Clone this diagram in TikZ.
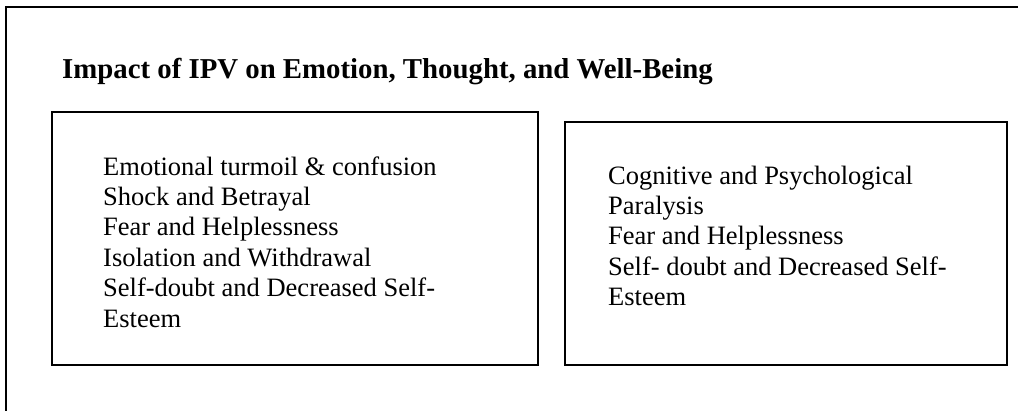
\documentclass[tikz,border=0pt]{standalone}
\usepackage{fontspec}
\setmainfont{Liberation Serif}
\begin{document}
\begin{tikzpicture}[x=1pt,y=-1pt,
  frameline/.style={draw=black,line width=2pt},
  boxstyle/.style={draw=black,line width=1.8pt,fill=none,inner sep=0pt},
  bodytext/.style={anchor=base west,inner sep=0pt,font=\fontsize{26.5}{30.5}\selectfont},
  titletext/.style={anchor=base west,inner sep=0pt,font=\fontsize{28.8}{33}\selectfont\bfseries}]
\useasboundingbox (0,0) rectangle (1018,410);
% outer frame (cropped)
\coordinate (fa) at (6,412);
\coordinate (fb) at (6,7);
\coordinate (fc) at (1020,7);
\draw[frameline] (fa) -- (fb) -- (fc);
% title
\node[titletext] (title) at (62,78) {Impact of IPV on Emotion, Thought, and Well-Being};
% boxes
\node[boxstyle,minimum width=486pt,minimum height=253pt] (lbox) at (295,238.5) {};
\node[boxstyle,minimum width=442pt,minimum height=243pt] (rbox) at (786,243.5) {};
% left box text
\node[bodytext] (l1) at (103,175) {Emotional turmoil \& confusion};
\node[bodytext] (l2) at (103,205.4) {Shock and Betrayal};
\node[bodytext] (l3) at (103,235.8) {Fear and Helplessness};
\node[bodytext] (l4) at (103,266.2) {Isolation and Withdrawal};
\node[bodytext] (l5) at (103,296.6) {Self-doubt and Decreased Self-};
\node[bodytext] (l6) at (103,327) {Esteem};
% right box text
\node[bodytext] (r1) at (608,184) {Cognitive and Psychological};
\node[bodytext] (r2) at (608,214.4) {Paralysis};
\node[bodytext] (r3) at (608,244.8) {Fear and Helplessness};
\node[bodytext] (r4) at (608,275.2) {Self- doubt and Decreased Self-};
\node[bodytext] (r5) at (608,305.6) {Esteem};
\end{tikzpicture}
\end{document}
